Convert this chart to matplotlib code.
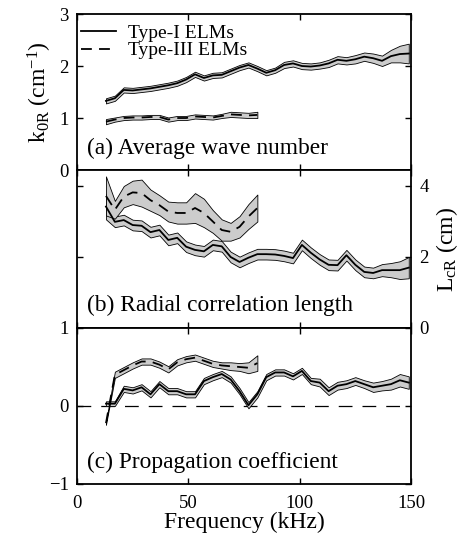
import matplotlib
matplotlib.use("Agg")
import matplotlib.pyplot as plt
from matplotlib.lines import Line2D

plt.rcParams["font.family"] = ["Liberation Serif", "DejaVu Serif"]
plt.rcParams["mathtext.fontset"] = "custom"
plt.rcParams["mathtext.rm"] = "Liberation Serif"
plt.rcParams["mathtext.it"] = "Liberation Serif:italic"

# frequencies (kHz)
freq_1 = [13, 17, 21, 25, 29, 33, 37, 41, 45, 49, 53, 57, 61, 65, 69, 73, 77, 81,
          85, 89, 93, 97, 101, 105, 109, 113, 117, 121, 125, 129, 133, 137, 141, 145, 149]
freq_3 = [13, 17, 21, 25, 29, 33, 37, 41, 45, 49, 53, 57, 61, 65, 69, 73, 77, 81]

# (a) average wave number k_0R (cm^-1)
k_type1 = [1.33, 1.38, 1.54, 1.53, 1.55, 1.57, 1.60, 1.63, 1.67, 1.74, 1.84, 1.77, 1.82,
           1.83, 1.90, 1.97, 2.02, 1.95, 1.87, 1.92, 2.02, 2.05, 2.00, 1.99, 2.01, 2.05,
           2.12, 2.10, 2.13, 2.18, 2.15, 2.10, 2.19, 2.23, 2.24]
k_err1 = [0.05, 0.05, 0.05, 0.05, 0.05, 0.05, 0.05, 0.05, 0.05, 0.05, 0.05, 0.05, 0.05,
          0.05, 0.05, 0.05, 0.05, 0.05, 0.05, 0.05, 0.06, 0.06, 0.06, 0.06, 0.06, 0.07,
          0.07, 0.07, 0.08, 0.08, 0.09, 0.10, 0.12, 0.16, 0.19]
k_type3 = [0.93, 0.97, 1.00, 1.01, 1.01, 1.02, 1.02, 0.97, 1.00, 1.00, 1.03, 1.02, 1.01,
           1.04, 1.07, 1.06, 1.05, 1.06]
k_err3 = [0.05, 0.04, 0.04, 0.04, 0.04, 0.04, 0.04, 0.04, 0.04, 0.04, 0.04, 0.04, 0.04,
          0.04, 0.05, 0.05, 0.05, 0.06]

# (b) radial correlation length L_cR (cm)
L_type1 = [3.42, 2.99, 3.04, 2.90, 2.88, 2.70, 2.76, 2.48, 2.54, 2.29, 2.20, 2.16, 2.34,
           2.30, 2.00, 1.86, 1.98, 2.08, 2.08, 2.07, 2.03, 1.97, 2.34, 2.12, 1.93, 1.78,
           1.77, 2.05, 1.78, 1.58, 1.55, 1.63, 1.63, 1.63, 1.70]
L_err1 = [0.36, 0.15, 0.15, 0.15, 0.15, 0.15, 0.15, 0.15, 0.15, 0.15, 0.15, 0.15, 0.15,
          0.15, 0.15, 0.15, 0.15, 0.15, 0.15, 0.15, 0.15, 0.15, 0.15, 0.15, 0.15, 0.15,
          0.15, 0.15, 0.15, 0.15, 0.15, 0.17, 0.20, 0.25, 0.30]
L_type3 = [3.72, 3.33, 3.70, 3.82, 3.80, 3.60, 3.46, 3.28, 3.24, 3.24, 3.38, 3.24, 3.00,
           2.76, 2.71, 2.85, 3.14, 3.38]
L_err3 = [0.55, 0.25, 0.30, 0.33, 0.38, 0.30, 0.28, 0.28, 0.30, 0.30, 0.42, 0.40, 0.32,
          0.30, 0.25, 0.30, 0.35, 0.38]

# (c) propagation coefficient
c_type1 = [0.03, 0.03, 0.22, 0.20, 0.24, 0.15, 0.28, 0.19, 0.19, 0.15, 0.15, 0.32, 0.37,
           0.41, 0.34, 0.19, 0.01, 0.15, 0.37, 0.43, 0.43, 0.38, 0.45, 0.32, 0.30, 0.19,
           0.26, 0.28, 0.32, 0.28, 0.24, 0.26, 0.28, 0.33, 0.30]
c_err1 = [0.03, 0.03, 0.04, 0.04, 0.04, 0.04, 0.04, 0.04, 0.04, 0.04, 0.04, 0.04, 0.04,
          0.04, 0.04, 0.04, 0.04, 0.04, 0.04, 0.04, 0.04, 0.04, 0.04, 0.04, 0.05, 0.05,
          0.05, 0.05, 0.05, 0.05, 0.06, 0.06, 0.07, 0.08, 0.08]
c_type3 = [-0.22, 0.40, 0.46, 0.52, 0.57, 0.57, 0.53, 0.47, 0.56, 0.60, 0.62, 0.58, 0.54,
           0.52, 0.51, 0.50, 0.49, 0.55]
c_err3 = [0.02, 0.04, 0.04, 0.04, 0.04, 0.04, 0.04, 0.04, 0.04, 0.04, 0.04, 0.04, 0.04,
          0.04, 0.05, 0.05, 0.07, 0.10]

panel_texts = ["(a) Average wave number", "(b) Radial correlation length",
               "(c) Propagation coefficient"]

BAND = "#cccccc"
DASH = (0, (6, 4))


def band(ax, x, y, err, ls):
    lo = [v - e for v, e in zip(y, err)]
    hi = [v + e for v, e in zip(y, err)]
    ax.fill_between(x, lo, hi, facecolor=BAND, edgecolor="k", linewidth=0.6, zorder=2)
    ax.plot(x, y, color="k", lw=1.3, linestyle=ls, zorder=3)


fig = plt.figure(figsize=(4.59, 5.37), dpi=100)
L, W = 0.1678, 0.7276
ax_a = fig.add_axes([L, 0.6834, W, 0.2905])
ax_b = fig.add_axes([L, 0.3892, W, 0.2942])
ax_c = fig.add_axes([L, 0.0987, W, 0.2905])

band(ax_a, freq_1, k_type1, k_err1, "-")
band(ax_a, freq_3, k_type3, k_err3, DASH)
band(ax_b, freq_1, L_type1, L_err1, "-")
band(ax_b, freq_3, L_type3, L_err3, DASH)
ax_c.axhline(0, color="k", lw=0.9, linestyle=(0, (11, 8)), zorder=1)
band(ax_c, freq_1, c_type1, c_err1, "-")
band(ax_c, freq_3, c_type3, c_err3, DASH)

for ax, txt in zip([ax_a, ax_b, ax_c], panel_texts):
    ax.set_xlim(0, 150)
    ax.set_xticks([0, 50, 100, 150])
    ax.tick_params(direction="in", top=True, right=True, length=4, width=1,
                   labelsize=13.5, pad=6)
    for s in ax.spines.values():
        s.set_linewidth(1.3)
    ax.text(0.03, 0.14, txt, transform=ax.transAxes, fontsize=16.8, va="center")

ax_a.set_ylim(0, 3)
ax_a.set_yticks([0, 1, 2, 3])
ax_a.tick_params(labelbottom=False)
ax_a.set_ylabel(r"$\mathrm{k_{0R}}$ (cm$^{\mathrm{-1}}$)", fontsize=17, labelpad=4)

ax_b.set_ylim(0, 4.45)
ax_b.set_yticks([0, 2, 4])
ax_b.tick_params(labelbottom=False, labelleft=False, labelright=True)
ax_b.yaxis.set_label_position("right")
ax_b.set_ylabel(r"$\mathrm{L_{cR}}$ (cm)", fontsize=17, labelpad=4)

ax_c.set_ylim(-1, 1)
ax_c.set_yticks([-1, 0, 1])
ax_c.tick_params(axis="x", pad=8)
ax_c.set_xlabel("Frequency (kHz)", fontsize=17, labelpad=0)

handles = [Line2D([], [], color="k", lw=1.3),
           Line2D([], [], color="k", lw=1.3, linestyle=DASH)]
ax_a.legend(handles, ["Type-I ELMs", "Type-III ELMs"], loc="upper left",
            bbox_to_anchor=(0.0, 0.96), frameon=False, fontsize=14,
            handlelength=1.8, handletextpad=0.6, labelspacing=0.0,
            borderaxespad=0.0, borderpad=0.2)

fig.savefig("out.png", dpi=100)
